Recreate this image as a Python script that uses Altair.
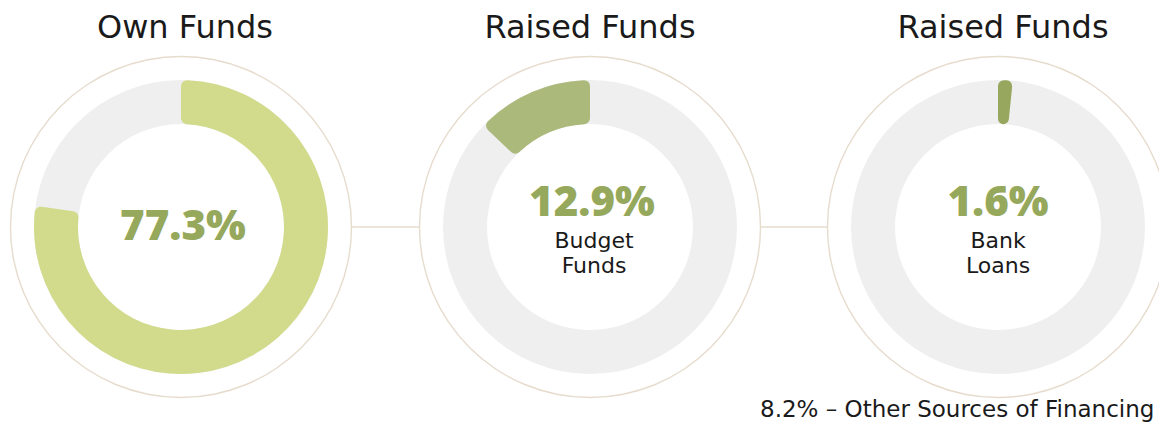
import math
import altair as alt
import pandas as pd

# ---- data ----
titles = ["Own Funds", "Raised Funds", "Raised Funds"]
values = [77.3, 12.9, 1.6]
sub_line1 = ["", "Budget", "Bank"]
sub_line2 = ["", "Funds", "Loans"]
clockwise = [True, False, True]
arc_colors = ["#d2db8c", "#abb97b", "#97a85e"]
footnote = "8.2% – Other Sources of Financing"

# ---- layout (page pixels; page margin is 8px) ----
OFF = 8
centers_x = [181, 590, 998]
title_x = [185, 590, 1003]
value_x = [183, 592, 998]
sub_x = [0, 594, 998]
center_y = 227
R_OUT, R_IN = 147, 103
R_RING = 170.5
W, H = 1167 - 2 * OFF, 431 - 2 * OFF
TWO_PI = 2 * math.pi

rows = []
for i, v in enumerate(values):
    frac = v / 100.0 * TWO_PI
    if clockwise[i]:
        t0, t1 = 0.0, frac
    else:
        t0, t1 = TWO_PI - frac, TWO_PI
    has_sub = sub_line1[i] != ""
    rows.append(dict(idx=i, cx=centers_x[i] - OFF, cy=center_y - OFF,
                     t0=t0, t1=t1, color=arc_colors[i],
                     title=titles[i], tx=title_x[i] - OFF, ty=37.8 - OFF,
                     val=f"{v}%", vx=value_x[i] - OFF,
                     vy=(216 if has_sub else 240) - OFF,
                     s1=sub_line1[i], s2=sub_line2[i], sx=sub_x[i] - OFF,
                     s1y=248 - OFF, s2y=273 - OFF))
df = pd.DataFrame(rows)
df["full0"] = 0.0
df["full1"] = TWO_PI

base = alt.Chart(df)
X = alt.X("cx:Q", scale=None, axis=None)
Y = alt.Y("cy:Q", scale=None, axis=None)

def px(field):
    return alt.X(field, scale=None, axis=None)

def py(field):
    return alt.Y(field, scale=None, axis=None)

outer_ring = base.mark_arc(radius=R_RING + 0.7, radius2=R_RING - 0.7,
                           color="#e6dccd").encode(
    x=X, y=Y, theta=alt.Theta("full0:Q", scale=None), theta2="full1:Q")

bg_ring = base.mark_arc(radius=R_OUT, radius2=R_IN, color="#efefef").encode(
    x=X, y=Y, theta=alt.Theta("full0:Q", scale=None), theta2="full1:Q")

val_arc = base.mark_arc(radius=R_OUT, radius2=R_IN, cornerRadius=6).encode(
    x=X, y=Y, theta=alt.Theta("t0:Q", scale=None), theta2="t1:Q",
    color=alt.Color("color:N", scale=None, legend=None))

# connector lines between circles
conn = pd.DataFrame({
    "x0": [centers_x[0] + R_RING - OFF, centers_x[1] + R_RING - OFF],
    "x1": [centers_x[1] - R_RING - OFF, centers_x[2] - R_RING - OFF],
    "y": [center_y - OFF] * 2,
})
connectors = alt.Chart(conn).mark_rule(color="#e6dccd", strokeWidth=1.4).encode(
    x=px("x0:Q"), x2="x1:Q", y=py("y:Q"))

FONT = "DejaVu Sans"
BOLD_FONT = "Open Sans"
TXT = "#1a1a1a"

title_text = base.mark_text(font=FONT, fontSize=32, color=TXT,
                            baseline="alphabetic", align="center").encode(
    x=px("tx:Q"), y=py("ty:Q"), text="title:N")

big_val = base.mark_text(font=BOLD_FONT, fontSize=42, fontWeight=800, color="#96a85c",
                         baseline="alphabetic", align="center").encode(
    x=px("vx:Q"), y=py("vy:Q"), text="val:N")

sub1 = base.mark_text(font=FONT, fontSize=22, color=TXT,
                      baseline="alphabetic", align="center").encode(
    x=px("sx:Q"), y=py("s1y:Q"), text="s1:N")
sub2 = base.mark_text(font=FONT, fontSize=22, color=TXT,
                      baseline="alphabetic", align="center").encode(
    x=px("sx:Q"), y=py("s2y:Q"), text="s2:N")

foot = alt.Chart(pd.DataFrame({"t": [footnote]})).mark_text(
    font=FONT, fontSize=23, color=TXT,
    baseline="alphabetic", align="left").encode(
    x=alt.value(760 - OFF), y=alt.value(417 - OFF), text="t:N")

chart = alt.layer(outer_ring, connectors, bg_ring, val_arc, title_text, big_val,
                  sub1, sub2, foot).properties(
    width=W, height=H, padding=0,
    autosize=alt.AutoSizeParams(type="none"),
).configure(background="white", view=alt.ViewConfig(stroke=None))

chart.save("out.html", embed_options={"renderer": "svg", "actions": False})
